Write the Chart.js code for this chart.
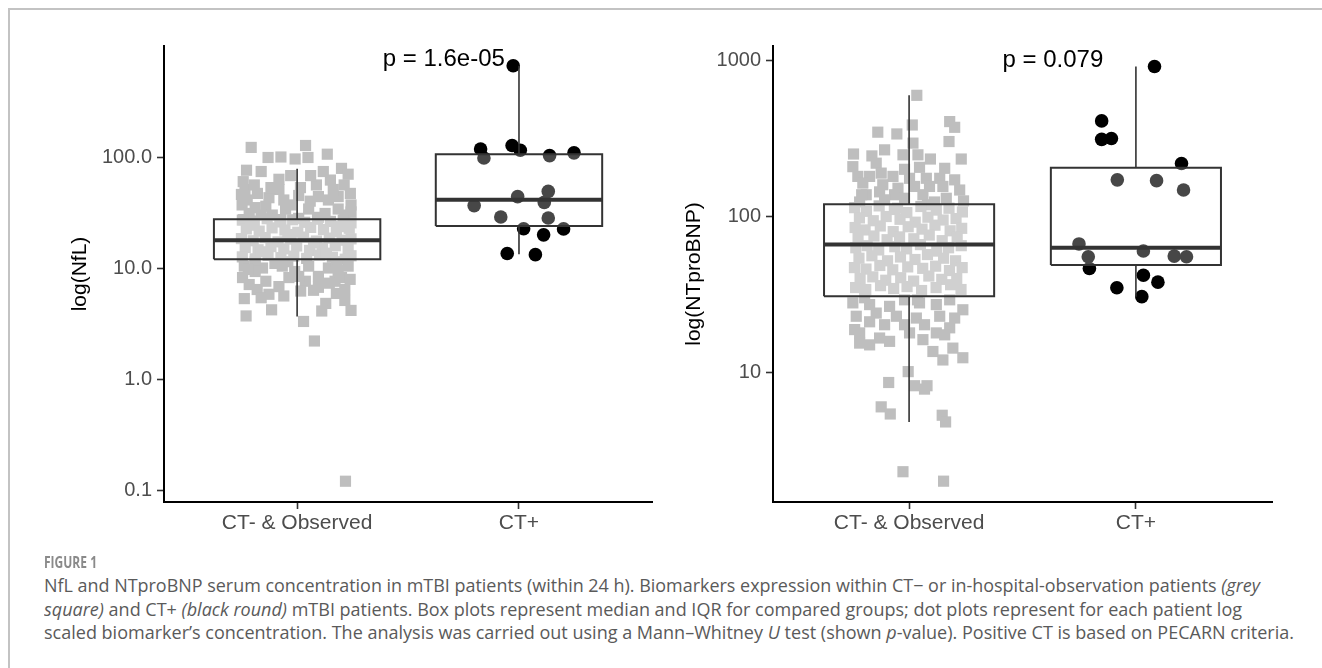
<!DOCTYPE html>
<html>
<head>
<meta charset="utf-8">
<title>Figure 1 - NfL and NTproBNP</title>
<script src="https://cdn.jsdelivr.net/npm/chart.js@4.4.1/dist/chart.umd.min.js"></script>
<style>
    body { margin: 0; background: #fff; width: 1322px; height: 668px; overflow: hidden; position: relative; }
    .frame { position: absolute; left: 8px; top: 8px; width: 1330px; height: 680px; border-top: 2px solid #c3c3c3; border-left: 2px solid #c3c3c3; }
    canvas { position: absolute; top: 0; }
    #nflChart { left: 0; }
    #bnpChart { left: 660px; }
    .fig-label { position: absolute; left: 44px; top: 552px; font: 700 16px/20px "Open Sans", sans-serif; color: #8a8a8a; white-space: nowrap; transform-origin: left top; }
    .cap { position: absolute; left: 44px; font: 18px/24px "Open Sans", sans-serif; color: #5a5a5a; white-space: nowrap; transform-origin: left top; }
</style>
</head>
<body>
<div class="frame"></div>
<canvas id="nflChart" width="660" height="560"></canvas>
<canvas id="bnpChart" width="662" height="560"></canvas>

<div class="fig-label" data-w="53">FIGURE 1</div>
<div class="cap" style="top:573px" data-w="1216">NfL and NTproBNP serum concentration in mTBI patients (within 24 h). Biomarkers expression within CT− or in-hospital-observation patients <i>(grey</i></div>
<div class="cap" style="top:597px" data-w="1198"><i>square)</i> and CT+ <i>(black round)</i> mTBI patients. Box plots represent median and IQR for compared groups; dot plots represent for each patient log</div>
<div class="cap" style="top:620px" data-w="1250">scaled biomarker’s concentration. The analysis was carried out using a Mann–Whitney <i>U</i> test (shown <i>p</i>-value). Positive CT is based on PECARN criteria.</div>

<script>
// ==========================================
// 1. 資料 (Data)
// ==========================================
const categories = ['CT- & Observed', 'CT+'];

// --- NfL ---
const nflRange = [0.078, 1000];
const nflTicks = [0.1, 1, 10, 100];
const nflTickLabels = ['0.1', '1.0', '10.0', '100.0'];
const nflWhiskerLow = [3.66, 13.3];
const nflQ1 = [12.0, 23.9];
const nflMedian = [17.8, 41.2];
const nflQ3 = [27.5, 106];
const nflWhiskerHigh = [78.5, 664];
const nflP = 'p = 1.6e-05';

// CT- & Observed (grey squares): jittered x, value
const nflObsJitter = [
    0.793, 1.038, 0.869, 0.927, 0.991, 1.049, 1.136, 0.772, 1.200, 1.230,
    0.918, 1.150, 0.757, 1.015, 0.765, 0.821, 0.918, 1.240, 0.873, 0.940,
    1.185, 0.752, 1.059, 1.096, 1.141, 0.859, 0.948, 1.052, 1.185, 0.784,
    1.215, 0.888, 1.126, 0.807, 0.971, 0.838, 1.007, 1.243, 1.087, 0.749,
    0.838, 0.971, 1.118, 0.775, 1.007, 1.212, 0.882, 1.061, 0.811, 1.163,
    0.927, 1.096, 0.758, 1.243,
    0.753, 0.807, 0.865, 0.922, 0.980, 1.034, 1.092, 1.150, 1.208, 1.243,
    0.771, 0.829, 0.887, 0.945, 1.003, 1.061, 1.119, 1.177, 1.235,
    0.749, 0.802, 0.856, 0.914, 0.971, 1.029, 1.087, 1.145, 1.203, 1.243,
    0.766, 0.824, 0.882, 0.940, 0.998, 1.056, 1.114, 1.172, 1.230,
    0.753, 0.811, 0.869, 0.927, 0.985, 1.043, 1.101, 1.159, 1.217, 1.243,
    0.789, 0.958, 1.074, 1.190, 0.838, 1.132,
    0.762, 0.844, 0.933, 1.052, 1.141, 1.230, 0.754, 0.859, 0.963, 1.096,
    1.200, 0.784, 0.918, 1.037, 1.171, 0.873, 0.940, 1.074, 1.215, 0.762,
    1.215, 0.885, 1.129, 1.111, 1.243, 0.770, 1.029, 1.078, 1.218, 0.811,
    0.989, 1.177, 0.811, 0.900, 1.007, 1.185, 1.096, 0.820, 1.239,
    0.780, 0.958, 1.145, 1.016, 0.838, 1.177
];
const nflObs = [
    122, 127, 99, 100, 96, 99, 106, 76, 79, 70,
    63, 62, 60, 53, 51, 47, 51, 47, 43, 41,
    44, 37, 40, 44, 41, 36, 34, 34, 34, 31,
    30, 30, 31, 56, 37, 30, 28, 37, 56, 46,
    74, 68, 74, 41, 45, 56, 53, 68, 35, 51,
    27.3, 28.6, 27.3, 32,
    27, 26.5, 27.8, 26, 27.2, 25.8, 27.5, 26.3, 27, 25.5,
    22.5, 21.5, 23, 22, 21, 23.2, 22.2, 21.2, 22.8,
    18.4, 17.6, 18.8, 17.2, 18.2, 19, 17.5, 18.6, 17.8, 18.3,
    15.3, 14.6, 15.6, 14.9, 15.8, 14.4, 15.2, 15.9, 14.7,
    12.6, 12.1, 13, 12.4, 12.8, 12.2, 13.1, 12.5, 12.0, 12.9,
    24.3, 20, 16.8, 23.6, 14, 13.6,
    10.4, 10.0, 10.4, 10.4, 10.0, 10.4, 8.2, 7.6, 8.2, 8.4,
    8.2, 7.1, 6.8, 7.6, 7.6, 5.8, 5.6, 6.3, 6.4, 5.3,
    5.1, 4.2, 4.8, 4.1, 4.15, 3.7, 3.3, 2.2, 0.12, 11.4,
    9.3, 11.4, 9.3, 11.0, 8.4, 9.5, 6.7, 6.4, 7.9,
    9.7, 11.4, 7.3, 6.2, 5.4, 5.9
];

// CT+ (black dots)
const nflCtJitter = [1.827, 1.842, 1.969, 2.006, 2.138, 2.248, 1.994, 2.132, 2.114, 1.798, 1.918, 2.132, 2.021, 2.111, 2.201, 1.947, 2.074, 1.974];
const nflCt = [118, 98, 127, 115, 103, 109, 44, 49, 39, 36.5, 28.8, 28.2, 22.6, 19.9, 22.5, 13.5, 13.2, 664];

// --- NTproBNP ---
const bnpRange = [1.47, 1244];
const bnpTicks = [10, 100, 1000];
const bnpTickLabels = ['10', '100', '1000'];
const bnpWhiskerLow = [4.8, 30.6];
const bnpQ1 = [30.8, 48.8];
const bnpMedian = [66.1, 63.1];
const bnpQ3 = [119.8, 206];
const bnpWhiskerHigh = [600, 918];
const bnpP = 'p = 0.079';

const bnpObsJitter = [
    1.034, 1.014, 1.179, 1.201, 0.862, 0.946, 1.176, 1.017, 0.755, 0.836,
    0.973, 1.039, 1.094, 1.230, 0.752, 0.855, 0.980, 1.046, 0.774, 0.826,
    0.877, 0.929, 1.076, 1.135, 0.796, 0.884, 0.951, 1.024, 1.090, 1.149,
    1.223, 0.811, 0.936, 1.061, 1.164, 0.980, 0.782, 0.892, 1.112, 1.240,
    0.892, 1.157, 0.791, 1.002, 0.870, 1.201, 1.081, 0.949,
    0.760, 0.812, 0.868, 0.935, 0.990, 1.052, 1.120, 1.176, 1.235,
    0.781, 0.842, 0.899, 0.960, 1.027, 1.083, 1.150, 1.207,
    0.762, 0.806, 0.873, 0.930, 0.996, 1.057, 1.114, 1.181, 1.232,
    0.775, 0.845, 0.903, 0.958, 1.021, 1.089, 1.146, 1.212,
    0.765, 0.815, 0.866, 0.937, 0.989, 1.050, 1.122, 1.174, 1.230,
    0.779, 0.836, 0.905, 0.962, 1.026, 1.081, 1.152, 1.205,
    0.759, 0.810, 0.871, 0.928, 0.994, 1.060, 1.117, 1.178, 1.234,
    0.784, 0.840, 0.897, 0.963, 1.020, 1.087, 1.144, 1.210,
    0.764, 0.809, 0.874, 0.932, 0.991, 1.055, 1.119, 1.183, 1.229,
    0.752, 0.826, 0.914, 1.046, 1.120, 1.237, 0.767, 0.855, 0.944, 1.032,
    1.135, 1.201, 0.782, 0.870, 0.914, 1.002, 1.061, 1.120, 0.782, 1.105,
    1.193, 1.149, 1.237, 0.996, 0.910, 1.024, 1.079, 1.068, 0.877, 0.917,
    1.146, 1.161, 0.973, 1.152, 0.804, 0.980, 1.179, 0.826, 0.980, 1.179,
    0.892, 1.037, 1.157, 0.760, 1.068, 0.826
];
const bnpObs = [
    600, 387, 407, 374, 348, 339, 303, 296, 252, 245,
    249, 249, 234, 234, 209, 220, 201, 207, 181, 181,
    190, 181, 176, 176, 164, 160, 152, 156, 156, 156,
    148, 138, 138, 138, 131, 131, 124, 128, 124, 126,
    268, 204, 138, 176, 144, 172, 119, 113,
    114, 108, 117, 111, 106, 116, 110, 113, 107,
    98, 94, 100, 96, 92, 99, 95, 97,
    85, 82, 87, 80, 86, 83, 88, 81, 84,
    73, 75, 71, 74, 72, 76, 70, 74,
    63, 65, 61, 64, 62, 66, 60, 63, 65,
    54, 56, 52, 55, 53, 57, 54, 52,
    47, 46, 48.5, 45.5, 47.5, 46.5, 48, 45, 47,
    40, 41, 39, 40.5, 38.5, 41.5, 39.5, 40,
    35, 34, 36, 34.5, 35.5, 33.5, 35, 36.5, 34,
    27.9, 27.2, 26.5, 27.9, 27.2, 25.2, 22.9, 24.0, 22.9, 22.3,
    22.9, 22.3, 17.9, 16.6, 15.8, 17.9, 16.2, 17.9, 15.4, 13.6,
    14.3, 12.0, 12.4, 10.1, 8.6, 8.2, 8.2, 7.8, 6.0, 5.4,
    5.3, 4.8, 2.3, 2.0, 30.1, 29.2, 29.2, 21.1, 20.2, 19.3,
    20.2, 29.2, 17.4, 18.8, 20.2, 15.0
];

const bnpCtJitter = [2.082, 1.849, 1.849, 1.892, 2.201, 1.918, 2.091, 2.210, 1.749, 1.790, 2.033, 2.169, 2.223, 1.795, 2.033, 2.097, 1.916, 2.026];
const bnpCt = [918, 411, 313, 317, 219, 172, 170, 148, 66.7, 55.2, 60.1, 55.7, 55.2, 46.4, 42.0, 37.9, 34.9, 30.6];

// ==========================================
// 2. 共用設定 (Shared settings)
// ==========================================
const FONT = "'Liberation Sans', Arial, sans-serif";
const BOX_HALF = 0.375;   // ggplot box width 0.75

// p 值文字
const pLabelPlugin = {
    id: 'pLabel',
    afterDatasetsDraw(chart, args, opts) {
        const { ctx, scales } = chart;
        ctx.save();
        ctx.font = '24px ' + FONT;
        ctx.fillStyle = '#000';
        ctx.textAlign = 'left';
        ctx.textBaseline = 'alphabetic';
        ctx.fillText(opts.text, scales.x.getPixelForValue(opts.x), scales.y.getPixelForValue(opts.y));
        ctx.restore();
    }
};

function buildPanel(canvasId, p) {
    const boxes = p.q1.map((q1, i) => {
        const c = i + 1;
        return {
            data: [
                { x: c - BOX_HALF, y: q1 }, { x: c + BOX_HALF, y: q1 },
                { x: c + BOX_HALF, y: p.q3[i] }, { x: c - BOX_HALF, y: p.q3[i] },
                { x: c - BOX_HALF, y: q1 }
            ],
            showLine: true,
            fill: 'shape',
            backgroundColor: 'rgba(255,255,255,0.28)',
            borderColor: '#333333',
            borderWidth: 2,
            pointRadius: 0,
            order: 2
        };
    });

    const whiskerData = [];
    const medianData = [];
    p.q1.forEach((q1, i) => {
        const c = i + 1;
        whiskerData.push({ x: c, y: p.q3[i] }, { x: c, y: p.hi[i] }, { x: c, y: null },
                         { x: c, y: q1 }, { x: c, y: p.lo[i] }, { x: c, y: null });
        medianData.push({ x: c - BOX_HALF, y: p.median[i] }, { x: c + BOX_HALF, y: p.median[i] }, { x: c, y: null });
    });

    const tickGrid = { drawOnChartArea: false, tickLength: 7, tickWidth: 1.6, tickColor: '#333333' };
    const axisBorder = { display: true, color: '#000', width: 2 };

    return new Chart(document.getElementById(canvasId), {
        type: 'scatter',
        data: {
            datasets: [
                { data: whiskerData, showLine: true, borderColor: '#333333', borderWidth: 1.6, pointRadius: 0, order: 0 },
                { data: medianData, showLine: true, borderColor: '#333333', borderWidth: 4, pointRadius: 0, order: 1 },
                ...boxes,
                {
                    data: p.ctJitter.map((x, i) => ({ x, y: p.ct[i] })),
                    pointStyle: 'circle', pointRadius: 6.8, backgroundColor: '#000', borderWidth: 0, order: 3
                },
                {
                    data: p.obsJitter.map((x, i) => ({ x, y: p.obs[i] })),
                    pointStyle: 'rect', pointRadius: 7.9, backgroundColor: '#bebebe', borderWidth: 0, order: 4
                }
            ]
        },
        options: {
            responsive: false,
            animation: false,
            events: [],
            layout: { padding: { top: 46, left: 0, right: p.padRight, bottom: 8 } },
            plugins: {
                legend: { display: false },
                tooltip: { enabled: false },
                pLabel: { text: p.pText, x: p.pX, y: Math.max(...p.ct) }
            },
            scales: {
                x: {
                    type: 'linear',
                    min: 0.4,
                    max: 2.6,
                    afterBuildTicks: s => { s.ticks = categories.map((_, i) => ({ value: i + 1 })); },
                    afterFit: s => { s.height = 50; },
                    ticks: {
                        callback: v => categories[Math.round(v) - 1],
                        color: '#4d4d4d',
                        font: { size: 21, family: FONT },
                        padding: 2,
                        maxRotation: 0,
                        autoSkip: false
                    },
                    grid: tickGrid,
                    border: axisBorder
                },
                y: {
                    type: 'logarithmic',
                    min: p.range[0],
                    max: p.range[1],
                    afterBuildTicks: s => { s.ticks = p.ticks.map(v => ({ value: v })); },
                    afterFit: s => { s.width = p.axisWidth; },
                    ticks: {
                        callback: v => p.tickLabels[p.ticks.indexOf(v)],
                        color: '#4d4d4d',
                        font: { size: 20, family: FONT },
                        padding: 5,
                        autoSkip: false
                    },
                    grid: tickGrid,
                    border: axisBorder,
                    title: {
                        display: true,
                        text: p.title,
                        color: '#000',
                        font: { size: 21, family: FONT },
                        padding: { top: p.titlePad, bottom: 0 }
                    }
                }
            }
        },
        plugins: [pLabelPlugin]
    });
}

// ==========================================
// 3. 初始化 (Init)
// ==========================================
buildPanel('nflChart', {
    range: nflRange, ticks: nflTicks, tickLabels: nflTickLabels,
    lo: nflWhiskerLow, q1: nflQ1, median: nflMedian, q3: nflQ3, hi: nflWhiskerHigh,
    obsJitter: nflObsJitter, obs: nflObs, ctJitter: nflCtJitter, ct: nflCt,
    pText: nflP, pX: 1.386, title: 'log(NfL)',
    axisWidth: 164, padRight: 3, titlePad: 68
});

buildPanel('bnpChart', {
    range: bnpRange, ticks: bnpTicks, tickLabels: bnpTickLabels,
    lo: bnpWhiskerLow, q1: bnpQ1, median: bnpMedian, q3: bnpQ3, hi: bnpWhiskerHigh,
    obsJitter: bnpObsJitter, obs: bnpObs, ctJitter: bnpCtJitter, ct: bnpCt,
    pText: bnpP, pX: 1.412, title: 'log(NTproBNP)',
    axisWidth: 113, padRight: 50, titlePad: 22
});

// 圖說文字寬度對齊
document.querySelectorAll('[data-w]').forEach(el => {
    const w = el.getBoundingClientRect().width;
    if (w > 0) el.style.transform = 'scaleX(' + (el.dataset.w / w) + ')';
});
</script>
</body>
</html>
